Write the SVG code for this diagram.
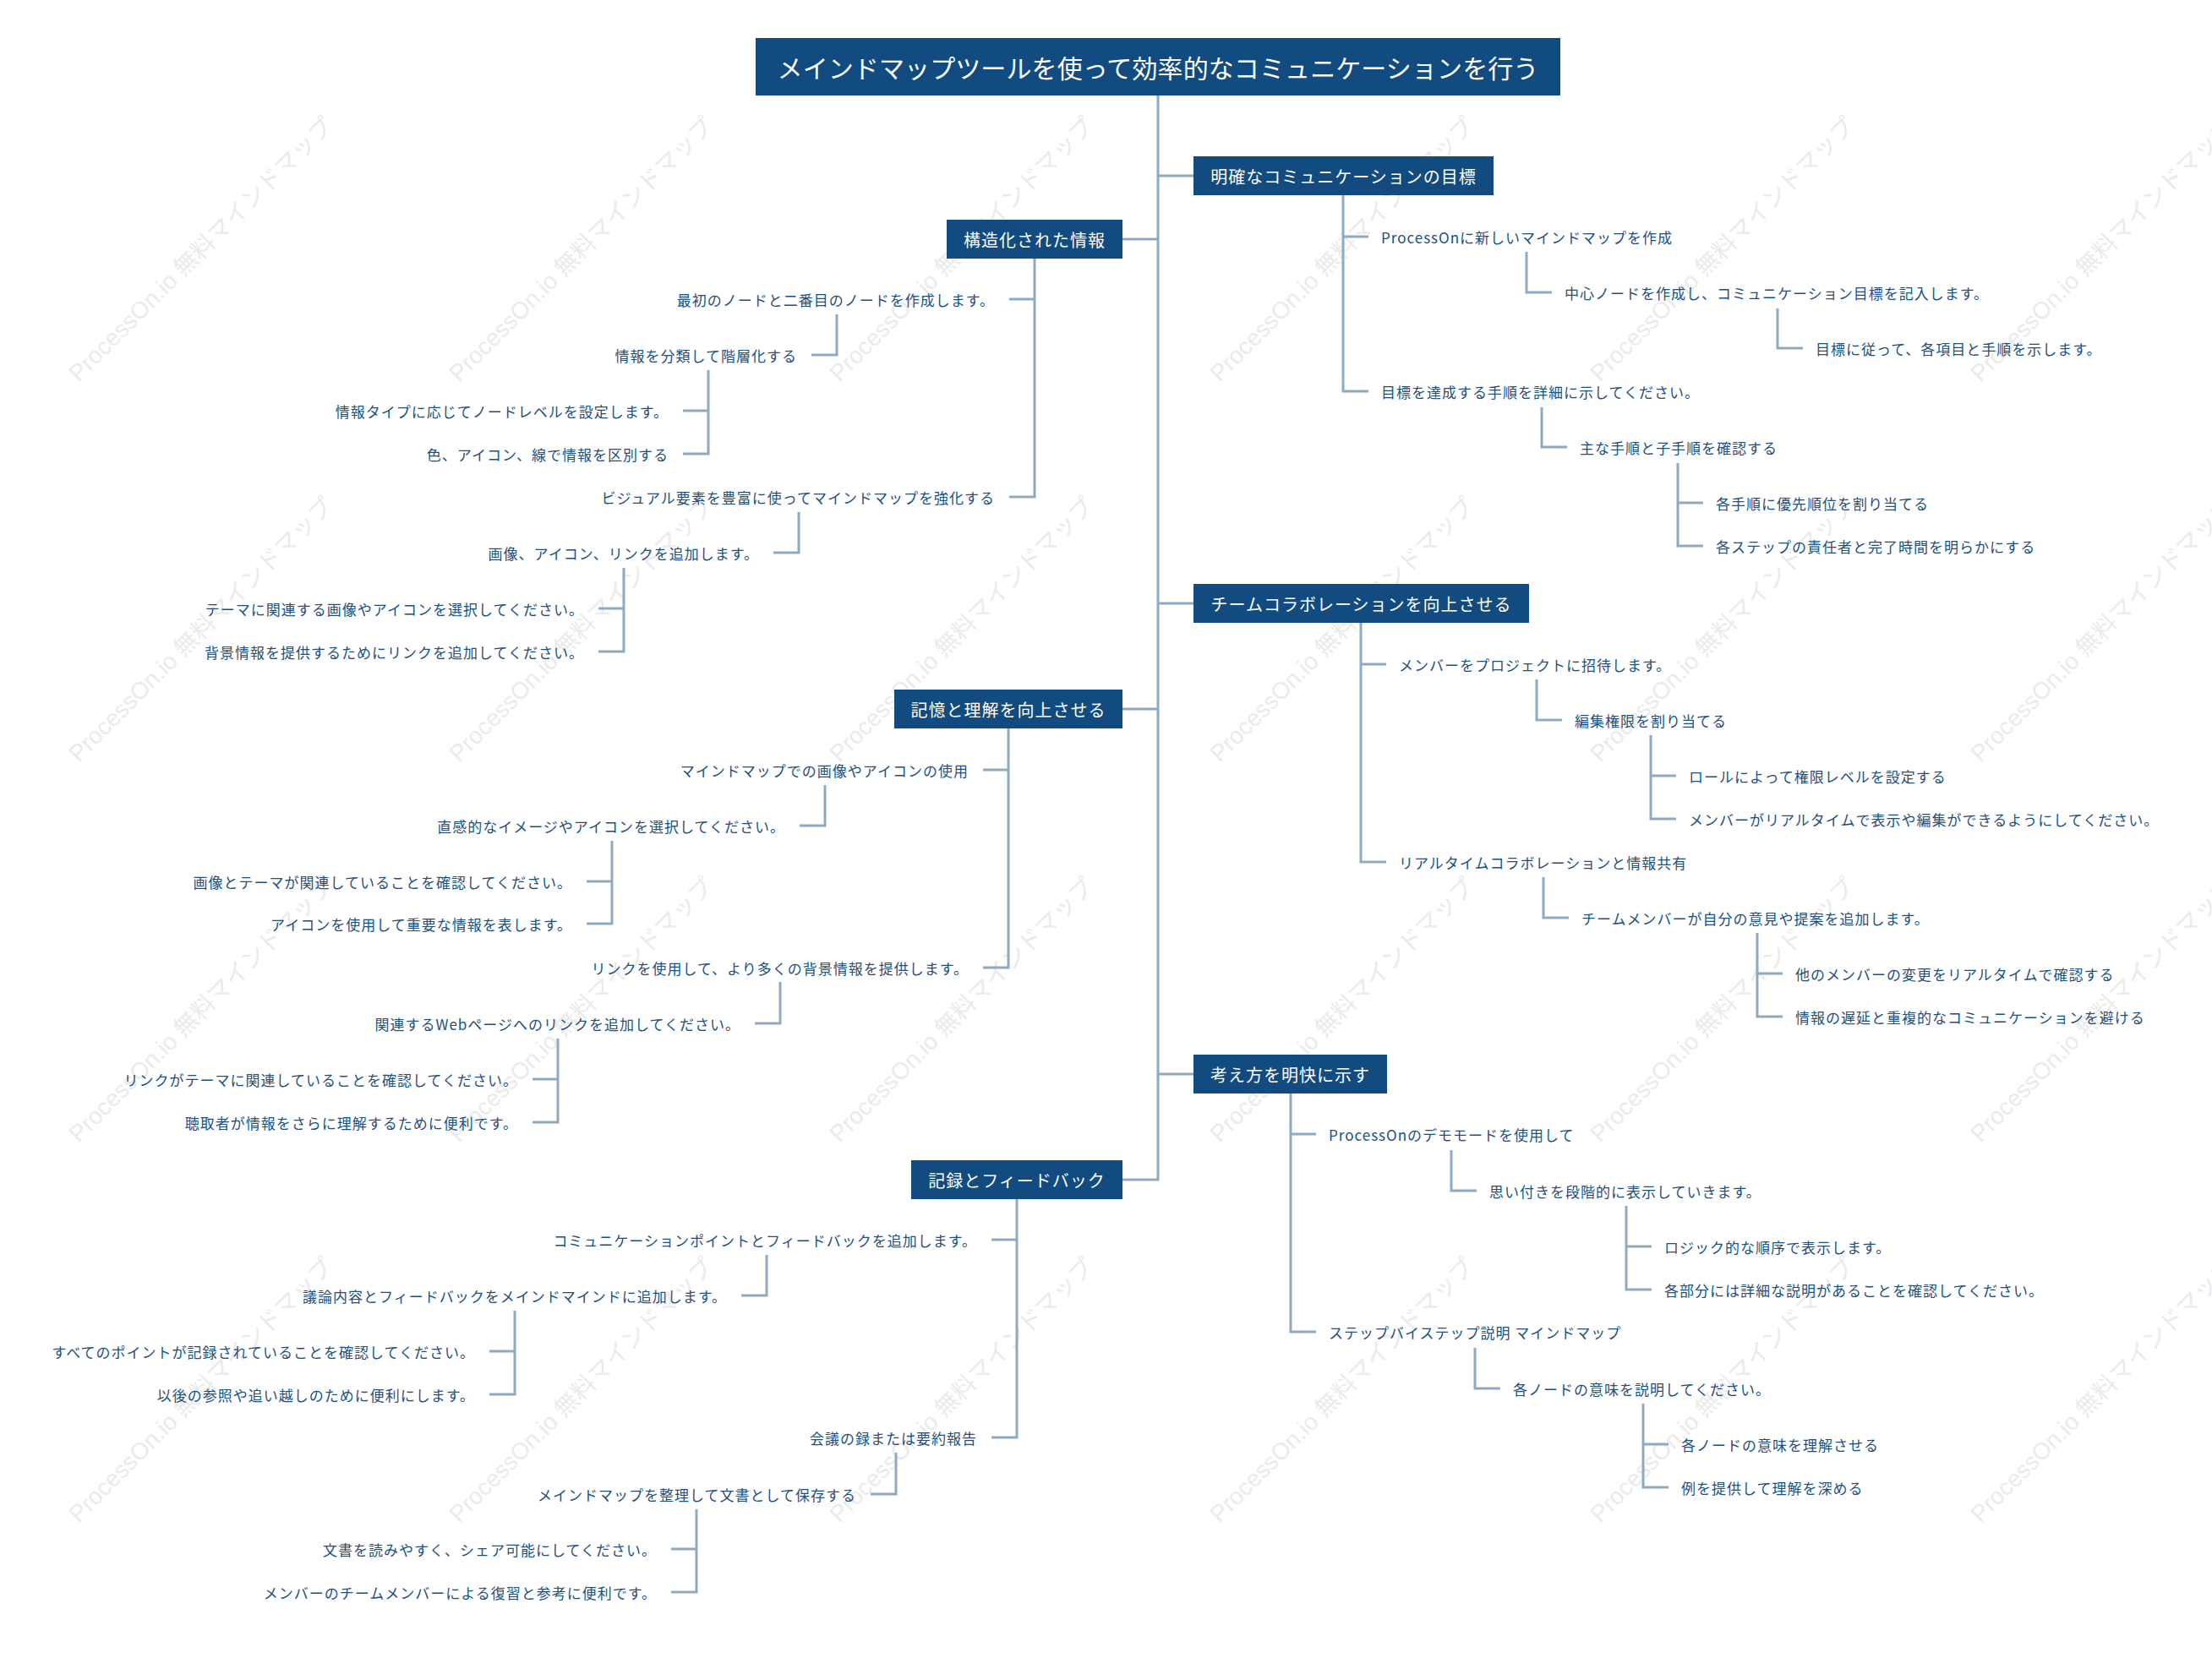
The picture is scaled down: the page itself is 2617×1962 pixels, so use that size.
<svg xmlns="http://www.w3.org/2000/svg" width="2617" height="1962" viewBox="0 0 2617 1962">
<style>
.wm{font-family:"Liberation Sans","Noto Sans CJK JP",sans-serif;font-size:28px;fill:#ebebeb}
.root{fill:#124b7f}
.rt{font-family:"Noto Sans CJK JP",sans-serif;font-size:30px;letter-spacing:0.1px;fill:#ffffff;text-anchor:middle;dominant-baseline:central}
.br{fill:#124b7f}
.bt{font-family:"Noto Sans CJK JP",sans-serif;font-size:20px;letter-spacing:1px;fill:#ffffff;text-anchor:middle;dominant-baseline:central}
.t{font-family:"Noto Sans CJK JP",sans-serif;font-size:17px;letter-spacing:1px;fill:#1d4f80;dominant-baseline:central}
.l{text-anchor:end}
.c{fill:none;stroke:#8eaac2;stroke-width:3}
</style>
<rect width="2617" height="1962" fill="#ffffff"/>
<g id="watermarks">
<text class="wm" transform="translate(93,453) rotate(-45)">ProcessOn.io 無料マインドマップ</text>
<text class="wm" transform="translate(543,453) rotate(-45)">ProcessOn.io 無料マインドマップ</text>
<text class="wm" transform="translate(993,453) rotate(-45)">ProcessOn.io 無料マインドマップ</text>
<text class="wm" transform="translate(1443,453) rotate(-45)">ProcessOn.io 無料マインドマップ</text>
<text class="wm" transform="translate(1893,453) rotate(-45)">ProcessOn.io 無料マインドマップ</text>
<text class="wm" transform="translate(2343,453) rotate(-45)">ProcessOn.io 無料マインドマップ</text>
<text class="wm" transform="translate(93,903) rotate(-45)">ProcessOn.io 無料マインドマップ</text>
<text class="wm" transform="translate(543,903) rotate(-45)">ProcessOn.io 無料マインドマップ</text>
<text class="wm" transform="translate(993,903) rotate(-45)">ProcessOn.io 無料マインドマップ</text>
<text class="wm" transform="translate(1443,903) rotate(-45)">ProcessOn.io 無料マインドマップ</text>
<text class="wm" transform="translate(1893,903) rotate(-45)">ProcessOn.io 無料マインドマップ</text>
<text class="wm" transform="translate(2343,903) rotate(-45)">ProcessOn.io 無料マインドマップ</text>
<text class="wm" transform="translate(93,1353) rotate(-45)">ProcessOn.io 無料マインドマップ</text>
<text class="wm" transform="translate(543,1353) rotate(-45)">ProcessOn.io 無料マインドマップ</text>
<text class="wm" transform="translate(993,1353) rotate(-45)">ProcessOn.io 無料マインドマップ</text>
<text class="wm" transform="translate(1443,1353) rotate(-45)">ProcessOn.io 無料マインドマップ</text>
<text class="wm" transform="translate(1893,1353) rotate(-45)">ProcessOn.io 無料マインドマップ</text>
<text class="wm" transform="translate(2343,1353) rotate(-45)">ProcessOn.io 無料マインドマップ</text>
<text class="wm" transform="translate(93,1803) rotate(-45)">ProcessOn.io 無料マインドマップ</text>
<text class="wm" transform="translate(543,1803) rotate(-45)">ProcessOn.io 無料マインドマップ</text>
<text class="wm" transform="translate(993,1803) rotate(-45)">ProcessOn.io 無料マインドマップ</text>
<text class="wm" transform="translate(1443,1803) rotate(-45)">ProcessOn.io 無料マインドマップ</text>
<text class="wm" transform="translate(1893,1803) rotate(-45)">ProcessOn.io 無料マインドマップ</text>
<text class="wm" transform="translate(2343,1803) rotate(-45)">ProcessOn.io 無料マインドマップ</text>
</g>
<g id="connectors">
<path class="c" d="M1370 113 V1396 H1328 M1370 208 H1412 M1370 714 H1412 M1370 1271 H1412 M1370 283 H1328 M1370 839 H1328"/>
<path class="c" d="M1589 231 V463 H1619 M1589 280 H1619 M1806 298 V346 H1836 M2103 365 V412 H2133 M1824 482 V529 H1854 M1985 548 V646 H2015 M1985 595 H2015"/>
<path class="c" d="M1610 737 V1020 H1640 M1610 786 H1640 M1818 804 V852 H1848 M1953 870 V969 H1983 M1953 918 H1983 M1826 1038 V1086 H1856 M2079 1104 V1203 H2109 M2079 1152 H2109"/>
<path class="c" d="M1527 1294 V1576 H1557 M1527 1342 H1557 M1717 1361 V1409 H1747 M1924 1427 V1526 H1954 M1924 1475 H1954 M1745 1595 V1643 H1775 M1944 1661 V1760 H1974 M1944 1709 H1974"/>
<path class="c" d="M1224 306 V588 H1194 M1224 354 H1194 M990 372 V420 H960 M838 438 V537 H808 M838 486 H808 M945 606 V654 H915 M738 672 V771 H708 M738 720 H708"/>
<path class="c" d="M1193 862 V1145 H1163 M1193 911 H1163 M976 929 V977 H946 M724 995 V1093 H694 M724 1043 H694 M923 1162 V1211 H893 M660 1229 V1328 H630 M660 1277 H630"/>
<path class="c" d="M1203 1419 V1701 H1173 M1203 1467 H1173 M907 1485 V1533 H877 M609 1551 V1650 H579 M609 1599 H579 M1060 1719 V1768 H1030 M824 1786 V1884 H794 M824 1833 H794"/>
</g>
<g id="root"><rect class="root" x="894" y="45" width="952" height="68"/><text class="rt" x="1370" y="79">メインドマップツールを使って効率的なコミュニケーションを行う</text></g>
<g id="b1"><rect class="br" x="1412" y="185" width="355" height="46"/><text class="bt" x="1589.5" y="208">明確なコミュニケーションの目標</text></g>
<g id="b2"><rect class="br" x="1412" y="691" width="397" height="46"/><text class="bt" x="1610.5" y="714">チームコラボレーションを向上させる</text></g>
<g id="b3"><rect class="br" x="1412" y="1248" width="229" height="46"/><text class="bt" x="1526.5" y="1271">考え方を明快に示す</text></g>
<g id="b4"><rect class="br" x="1120" y="260" width="208" height="46"/><text class="bt" x="1224" y="283">構造化された情報</text></g>
<g id="b5"><rect class="br" x="1058" y="816" width="270" height="46"/><text class="bt" x="1193" y="839">記憶と理解を向上させる</text></g>
<g id="b6"><rect class="br" x="1078" y="1373" width="250" height="46"/><text class="bt" x="1203" y="1396">記録とフィードバック</text></g>
<g id="n1a"><text class="t" x="1634" y="280">ProcessOnに新しいマインドマップを作成</text></g>
<g id="n1a1"><text class="t" x="1851" y="346">中心ノードを作成し、コミュニケーション目標を記入します。</text></g>
<g id="n1a1a"><text class="t" x="2148" y="412">目標に従って、各項目と手順を示します。</text></g>
<g id="n1b"><text class="t" x="1634" y="463">目標を達成する手順を詳細に示してください。</text></g>
<g id="n1b1"><text class="t" x="1869" y="529">主な手順と子手順を確認する</text></g>
<g id="n1b1a"><text class="t" x="2030" y="595">各手順に優先順位を割り当てる</text></g>
<g id="n1b1b"><text class="t" x="2030" y="646">各ステップの責任者と完了時間を明らかにする</text></g>
<g id="n2a"><text class="t" x="1655" y="786">メンバーをプロジェクトに招待します。</text></g>
<g id="n2a1"><text class="t" x="1863" y="852">編集権限を割り当てる</text></g>
<g id="n2a1a"><text class="t" x="1998" y="918">ロールによって権限レベルを設定する</text></g>
<g id="n2a1b"><text class="t" x="1998" y="969">メンバーがリアルタイムで表示や編集ができるようにしてください。</text></g>
<g id="n2b"><text class="t" x="1655" y="1020">リアルタイムコラボレーションと情報共有</text></g>
<g id="n2b1"><text class="t" x="1871" y="1086">チームメンバーが自分の意見や提案を追加します。</text></g>
<g id="n2b1a"><text class="t" x="2124" y="1152">他のメンバーの変更をリアルタイムで確認する</text></g>
<g id="n2b1b"><text class="t" x="2124" y="1203">情報の遅延と重複的なコミュニケーションを避ける</text></g>
<g id="n3a"><text class="t" x="1572" y="1342">ProcessOnのデモモードを使用して</text></g>
<g id="n3a1"><text class="t" x="1762" y="1409">思い付きを段階的に表示していきます。</text></g>
<g id="n3a1a"><text class="t" x="1969" y="1475">ロジック的な順序で表示します。</text></g>
<g id="n3a1b"><text class="t" x="1969" y="1526">各部分には詳細な説明があることを確認してください。</text></g>
<g id="n3b"><text class="t" x="1572" y="1576">ステップバイステップ説明 マインドマップ</text></g>
<g id="n3b1"><text class="t" x="1790" y="1643">各ノードの意味を説明してください。</text></g>
<g id="n3b1a"><text class="t" x="1989" y="1709">各ノードの意味を理解させる</text></g>
<g id="n3b1b"><text class="t" x="1989" y="1760">例を提供して理解を深める</text></g>
<g id="n4a"><text class="t l" x="1177" y="354">最初のノードと二番目のノードを作成します。</text></g>
<g id="n4a1"><text class="t l" x="943" y="420">情報を分類して階層化する</text></g>
<g id="n4a1a"><text class="t l" x="791" y="486">情報タイプに応じてノードレベルを設定します。</text></g>
<g id="n4a1b"><text class="t l" x="791" y="537">色、アイコン、線で情報を区別する</text></g>
<g id="n4b"><text class="t l" x="1177" y="588">ビジュアル要素を豊富に使ってマインドマップを強化する</text></g>
<g id="n4b1"><text class="t l" x="898" y="654">画像、アイコン、リンクを追加します。</text></g>
<g id="n4b1a"><text class="t l" x="691" y="720">テーマに関連する画像やアイコンを選択してください。</text></g>
<g id="n4b1b"><text class="t l" x="691" y="771">背景情報を提供するためにリンクを追加してください。</text></g>
<g id="n5a"><text class="t l" x="1146" y="911">マインドマップでの画像やアイコンの使用</text></g>
<g id="n5a1"><text class="t l" x="929" y="977">直感的なイメージやアイコンを選択してください。</text></g>
<g id="n5a1a"><text class="t l" x="677" y="1043">画像とテーマが関連していることを確認してください。</text></g>
<g id="n5a1b"><text class="t l" x="677" y="1093">アイコンを使用して重要な情報を表します。</text></g>
<g id="n5b"><text class="t l" x="1146" y="1145">リンクを使用して、より多くの背景情報を提供します。</text></g>
<g id="n5b1"><text class="t l" x="876" y="1211">関連するWebページへのリンクを追加してください。</text></g>
<g id="n5b1a"><text class="t l" x="613" y="1277">リンクがテーマに関連していることを確認してください。</text></g>
<g id="n5b1b"><text class="t l" x="613" y="1328">聴取者が情報をさらに理解するために便利です。</text></g>
<g id="n6a"><text class="t l" x="1156" y="1467">コミュニケーションポイントとフィードバックを追加します。</text></g>
<g id="n6a1"><text class="t l" x="860" y="1533">議論内容とフィードバックをメインドマインドに追加します。</text></g>
<g id="n6a1a"><text class="t l" x="562" y="1599">すべてのポイントが記録されていることを確認してください。</text></g>
<g id="n6a1b"><text class="t l" x="562" y="1650">以後の参照や追い越しのために便利にします。</text></g>
<g id="n6b"><text class="t l" x="1156" y="1701">会議の録または要約報告</text></g>
<g id="n6b1"><text class="t l" x="1013" y="1768">メインドマップを整理して文書として保存する</text></g>
<g id="n6b1a"><text class="t l" x="777" y="1833">文書を読みやすく、シェア可能にしてください。</text></g>
<g id="n6b1b"><text class="t l" x="777" y="1884">メンバーのチームメンバーによる復習と参考に便利です。</text></g>
</svg>
